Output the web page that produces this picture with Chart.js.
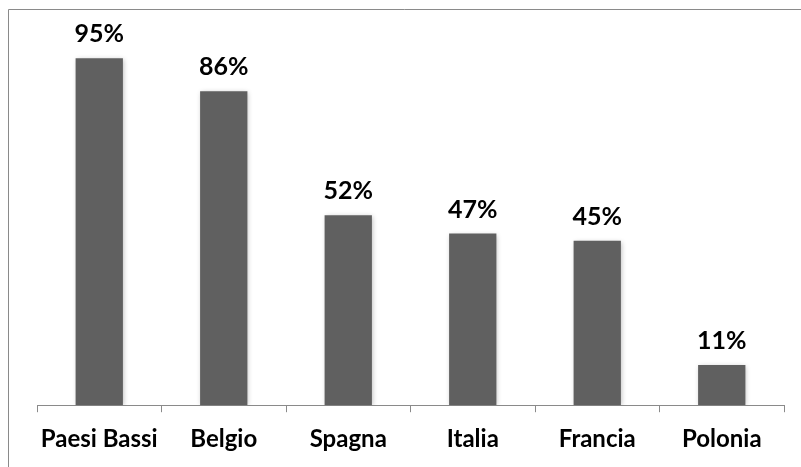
<!DOCTYPE html>
<html>
<head>
<meta charset="utf-8">
<script src="https://cdn.jsdelivr.net/npm/chart.js@4"></script>
<style>
  html, body { margin: 0; padding: 0; background: #ffffff; overflow: hidden; }
  canvas { display: block; }
</style>
</head>
<body>
<canvas id="c" width="801" height="467"></canvas>
<script>
const categories = ["Paesi Bassi", "Belgio", "Spagna", "Italia", "Francia", "Polonia"];
const values = [95, 86, 52, 47, 45, 11];
const valueLabels = ["95%", "86%", "52%", "47%", "45%", "11%"];

const FONT = "Lato, 'Liberation Sans', sans-serif";

const frame = {
  id: 'frame',
  afterDraw(chart) {
    const ctx = chart.ctx;
    ctx.save();
    ctx.strokeStyle = '#8a8a8a';
    ctx.lineWidth = 1;
    ctx.beginPath();
    ctx.moveTo(8.5, 467);
    ctx.lineTo(8.5, 9.5);
    ctx.lineTo(801, 9.5);
    ctx.stroke();
    ctx.restore();
  }
};

const shadow = {
  id: 'shadow',
  beforeDatasetsDraw(chart) {
    const ctx = chart.ctx;
    ctx.save();
    ctx.shadowColor = 'rgba(0,0,0,0.28)';
    ctx.shadowBlur = 5;
    ctx.shadowOffsetX = 1;
    ctx.shadowOffsetY = 1;
  },
  afterDatasetsDraw(chart) {
    const ctx = chart.ctx;
    ctx.restore();
    const meta = chart.getDatasetMeta(0);
    ctx.save();
    ctx.fillStyle = '#000000';
    ctx.font = "bold 25px " + FONT;
    ctx.textAlign = 'center';
    ctx.textBaseline = 'alphabetic';
    meta.data.forEach((bar, i) => {
      ctx.fillText(valueLabels[i], bar.x, bar.y - 16);
    });
    ctx.restore();
  }
};

new Chart(document.getElementById('c'), {
  type: 'bar',
  data: {
    labels: categories,
    datasets: [{
      data: values,
      backgroundColor: '#606060',
      borderWidth: 0,
      categoryPercentage: 1,
      barPercentage: 0.38
    }]
  },
  options: {
    responsive: false,
    devicePixelRatio: 1,
    animation: false,
    layout: { padding: { left: 37, right: 17, top: 40, bottom: 0 } },
    plugins: { legend: { display: false }, tooltip: { enabled: false } },
    scales: {
      y: { display: false, min: 0, max: 100 },
      x: {
        offset: true,
        border: { display: true, color: '#8a8a8a', width: 1 },
        grid: { display: true, drawOnChartArea: false, drawTicks: true, tickLength: 7, color: '#8a8a8a', offset: true },
        ticks: { color: '#000000', padding: 13, maxRotation: 0, minRotation: 0, autoSkip: false, font: { family: FONT, size: 24, weight: 'bold' } }
      }
    }
  },
  plugins: [frame, shadow]
});
</script>
</body>
</html>
